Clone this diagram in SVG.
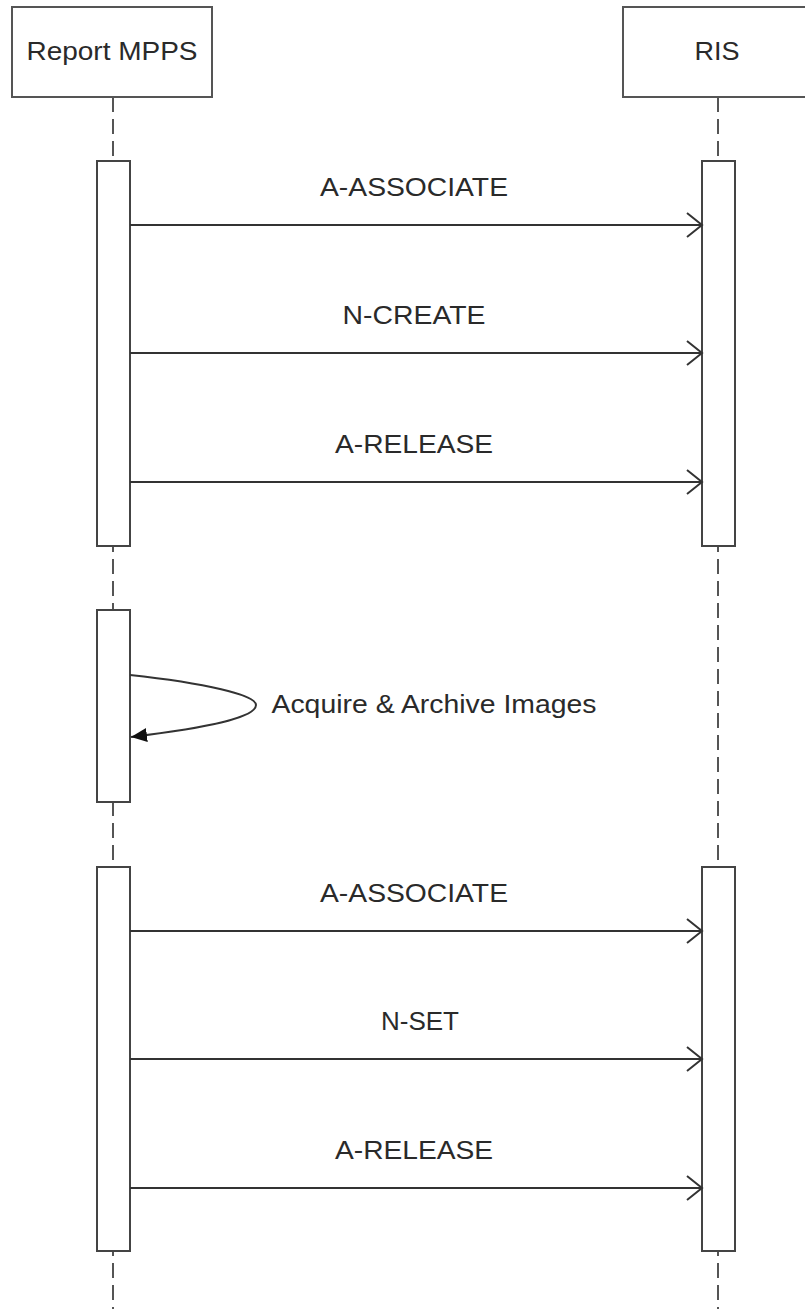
<svg xmlns="http://www.w3.org/2000/svg" width="805" height="1309" viewBox="0 0 805 1309">
  <style>
    .hdr { fill: #fff; stroke: #555; stroke-width: 2; }
    .life { stroke: #555; stroke-width: 2; stroke-dasharray: 15 7; fill: none; }
    .act { fill: #fff; stroke: #444; stroke-width: 2; }
    .msg { stroke: #333; stroke-width: 2; fill: none; }
    .lbl { font-family: "Liberation Sans", Arial, sans-serif; font-size: 26px; fill: #2a2a2a; text-anchor: middle; }
  </style>
  <defs>
    <marker id="open" markerWidth="20" markerHeight="28" refX="17" refY="13" orient="auto" markerUnits="userSpaceOnUse">
      <path d="M2,1 L17,13 L2,25" fill="none" stroke="#333" stroke-width="2"/>
    </marker>
    <marker id="filled" markerWidth="20" markerHeight="16" refX="16" refY="8" orient="auto" markerUnits="userSpaceOnUse">
      <path d="M0,1 L16,8 L0,15 Z" fill="#111"/>
    </marker>
  </defs>
  <rect width="805" height="1309" fill="#fff"/>

  <g id="lifelines">
    <line class="life" x1="113" y1="97" x2="113" y2="1309"/>
    <line class="life" x1="718" y1="97" x2="718" y2="1309"/>
  </g>

  <g id="report-mpps">
    <rect class="hdr" x="12" y="7" width="200" height="90"/>
    <text class="lbl" x="112" y="60" textLength="171" lengthAdjust="spacingAndGlyphs">Report MPPS</text>
  </g>
  <g id="ris">
    <rect class="hdr" x="623" y="7" width="200" height="90"/>
    <text class="lbl" x="717" y="60" textLength="45" lengthAdjust="spacingAndGlyphs">RIS</text>
  </g>

  <g id="activations">
    <rect class="act" x="97" y="161" width="33" height="385"/>
    <rect class="act" x="702" y="161" width="33" height="385"/>
    <rect class="act" x="97" y="610" width="33" height="192"/>
    <rect class="act" x="97" y="867" width="33" height="384"/>
    <rect class="act" x="702" y="867" width="33" height="384"/>
  </g>

  <g id="connectors">
    <line class="msg" x1="130" y1="225" x2="702" y2="225" marker-end="url(#open)"/>
    <line class="msg" x1="130" y1="353" x2="702" y2="353" marker-end="url(#open)"/>
    <line class="msg" x1="130" y1="482" x2="702" y2="482" marker-end="url(#open)"/>
    <path class="msg" d="M130,675 C205,683 256,695 256,705 C256,718 205,728 131,737" marker-end="url(#filled)"/>
    <line class="msg" x1="130" y1="931" x2="702" y2="931" marker-end="url(#open)"/>
    <line class="msg" x1="130" y1="1059" x2="702" y2="1059" marker-end="url(#open)"/>
    <line class="msg" x1="130" y1="1188" x2="702" y2="1188" marker-end="url(#open)"/>
  </g>

  <g id="labels">
    <text class="lbl" x="414" y="196" textLength="188" lengthAdjust="spacingAndGlyphs">A-ASSOCIATE</text>
    <text class="lbl" x="414" y="324" textLength="143" lengthAdjust="spacingAndGlyphs">N-CREATE</text>
    <text class="lbl" x="414" y="453" textLength="158" lengthAdjust="spacingAndGlyphs">A-RELEASE</text>
    <text class="lbl" x="434" y="713" textLength="325" lengthAdjust="spacingAndGlyphs">Acquire &amp; Archive Images</text>
    <text class="lbl" x="414" y="902" textLength="188" lengthAdjust="spacingAndGlyphs">A-ASSOCIATE</text>
    <text class="lbl" x="420" y="1030">N-SET</text>
    <text class="lbl" x="414" y="1159" textLength="158" lengthAdjust="spacingAndGlyphs">A-RELEASE</text>
  </g>
</svg>
